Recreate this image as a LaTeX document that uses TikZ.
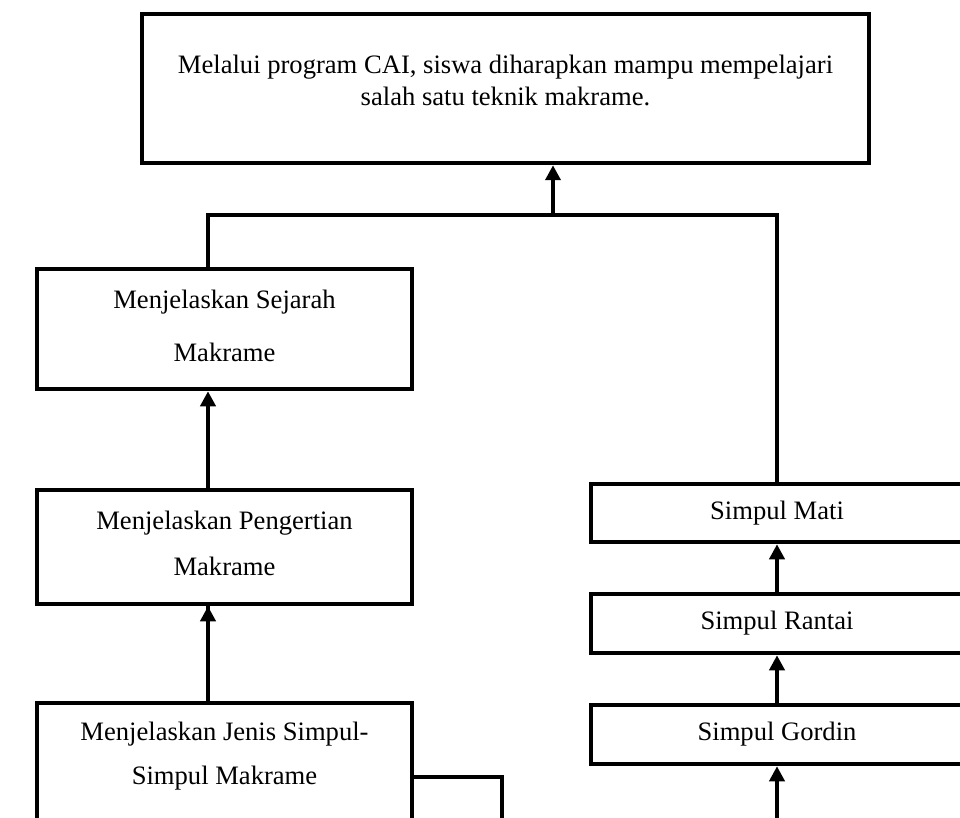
\documentclass[tikz,border=0pt]{standalone}
\usepackage{fontspec}
\setmainfont{Liberation Serif}
\usetikzlibrary{arrows.meta,calc}

\begin{document}
\begin{tikzpicture}[x=1pt,y=-1pt,
  frame/.style={draw=black,line width=4.5pt,rectangle,inner sep=0pt},
  txt/.style={align=center,inner sep=0pt,font=\fontsize{26.6}{32}\selectfont},
  link/.style={line width=4pt},
  up/.style={line width=4pt,-{Triangle[width=15pt,length=15pt]}}
]
\clip (0,0) rectangle (960,818);
\fill[white] (0,0) rectangle (960,818);

% goal box at the top
\node[frame,minimum width=727pt,minimum height=149pt] (goal) at (505.5,88.5) {};
\node[txt] (goaltxt) at (505.5,80) {Melalui program CAI, siswa diharapkan mampu mempelajari\\salah satu teknik makrame.};

% left column
\node[frame,minimum width=375pt,minimum height=120pt] (sejarah) at (224.5,329) {};
\node[txt,font=\fontsize{26.6}{53}\selectfont] (sejarahtxt) at (224.5,326) {Menjelaskan Sejarah\\Makrame};

\node[frame,minimum width=375pt,minimum height=114pt] (pengertian) at (224.5,547) {};
\node[txt,font=\fontsize{26.6}{46}\selectfont] (pengertiantxt) at (224.5,543) {Menjelaskan Pengertian\\Makrame};

\node[frame,minimum width=375pt,minimum height=147pt] (jenis) at (224.5,776.5) {};
\node[txt,font=\fontsize{26.6}{44}\selectfont] (jenistxt) at (224.5,756) {Menjelaskan Jenis Simpul-\\Simpul Makrame};

% right column
\node[frame,minimum width=372pt,minimum height=58pt] (mati) at (777,513) {};
\node[txt] (matitxt) at (777,513) {Simpul Mati};
\node[frame,minimum width=372pt,minimum height=59pt] (rantai) at (777,623.5) {};
\node[txt] (rantaitxt) at (777,623.5) {Simpul Rantai};
\node[frame,minimum width=372pt,minimum height=59pt] (gordin) at (777,734.5) {};
\node[txt] (gordintxt) at (777,734.5) {Simpul Gordin};

% junction points and loose ends
\coordinate (joinL) at (208,215);
\coordinate (joinR) at (777,215);
\coordinate (joinM) at (553,215);
\coordinate (jenisbend) at (502,777);
\coordinate (jenisend) at (502,830);
\coordinate (gordinfeed) at (777,830);

% connectors
\draw[link] (sejarah.north -| joinL) -- (joinL) -- (joinR) -- (mati.north -| joinR);
\draw[up] (joinM) -- (goal.south -| joinM);
\draw[up] (pengertian.north -| joinL) -- (sejarah.south -| joinL);
\draw[link] (jenis.north -| joinL) -- (pengertian.south -| joinL);
\draw[up] (jenis.north -| joinL) -- (pengertian.south -| joinL);
\draw[link] (jenis.east |- jenisbend) -- (jenisbend) -- (jenisend);
\draw[up] (rantai.north) -- (mati.south);
\draw[up] (gordin.north) -- (rantai.south);
\draw[up] (gordinfeed) -- (gordin.south);
\end{tikzpicture}
\end{document}
